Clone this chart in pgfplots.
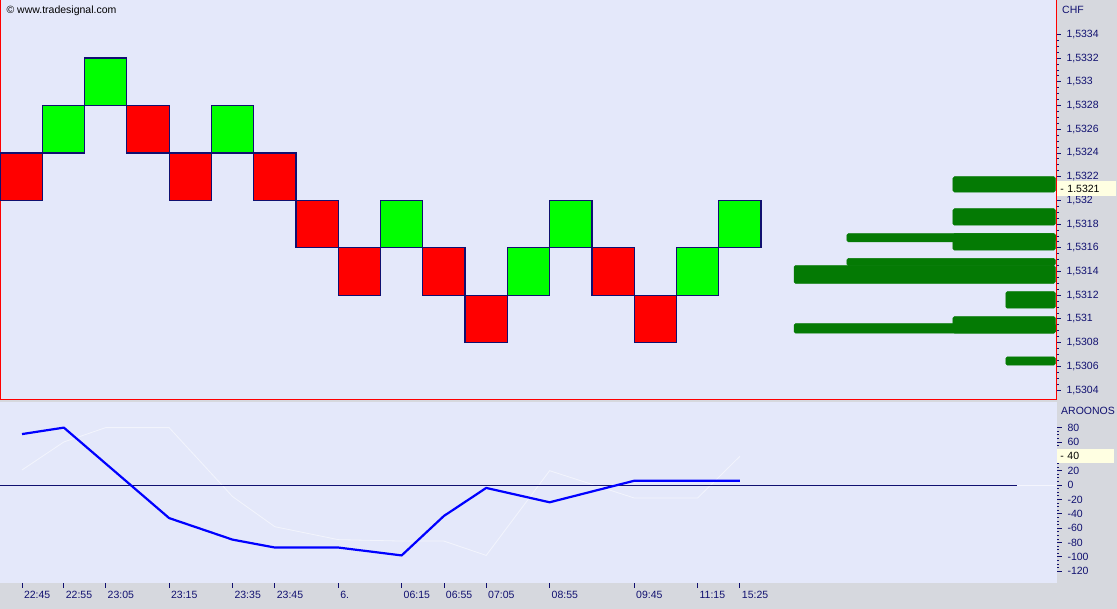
\documentclass[border=0pt]{standalone}
\usepackage{pgfplots}
\pgfplotsset{compat=1.18}
\usepackage{fontspec}
\setmainfont{Liberation Sans}

\definecolor{plotbg}{RGB}{228,232,250}
\definecolor{panelgray}{RGB}{214,216,222}
\definecolor{navy}{RGB}{16,16,112}
\definecolor{brickred}{RGB}{255,0,0}
\definecolor{brickgreen}{RGB}{0,255,0}
\definecolor{volgreen}{RGB}{4,122,4}
\definecolor{hilite}{RGB}{255,255,226}

% renko brick: colour, x0, x1, low, high
\newcommand\brick[5]{\addplot[fill=#1, draw=navy, line width=1.2pt] coordinates {(#2,#4) (#3,#4) (#3,#5) (#2,#5)} --cycle;}
% volume-at-price bar: left edge, low, high
\newcommand\vol[3]{\addplot[fill=volgreen, draw=volgreen, line width=0.5pt, rounded corners=1.5pt] coordinates {(#1,#2) (24.96,#2) (24.96,#3) (#1,#3)} --cycle;}

\begin{document}
\begin{tikzpicture}[x=1pt,y=1pt]
\fill[panelgray] (0,0) rectangle (1117,609);
\path[use as bounding box] (0,0) rectangle (1117,609);

\pgfplotsset{
    common/.style={
        scale only axis,
        width=1057pt,
        xmin=0, xmax=25,
        axis background/.style={fill=plotbg},
        tick align=outside,
        ytick pos=right,
        yticklabel pos=right,
        tick style={navy, line width=0.8pt},
        major tick length=4pt,
        minor tick length=2pt,
        ticklabel style={font=\fontsize{10.5}{12}\selectfont, text=navy},
        yticklabel style={xshift=2pt},
        /pgf/number format/assume math mode=true,
        clip mode=individual,
    },
}

% price panel
\begin{axis}[common,
    at={(0pt,209pt)}, anchor=south west,
    height=400pt,
    ymin=1.530316, ymax=1.53369,
    xtick=\empty,
    ytick={1.5304,1.5306,1.5308,1.531,1.5312,1.5314,1.5316,1.5318,1.532,1.5322,1.5324,1.5326,1.5328,1.533,1.5332,1.5334},
    minor y tick num=3,
    axis line style={red, line width=1pt},
    yticklabel style={/pgf/number format/.cd, fixed, precision=4, use comma},
    ]
    \brick{brickred}{0}{1}{1.5320}{1.5324}
    \brick{brickgreen}{1}{2}{1.5324}{1.5328}
    \brick{brickgreen}{2}{3}{1.5328}{1.5332}
    \brick{brickred}{3}{4}{1.5324}{1.5328}
    \brick{brickred}{4}{5}{1.5320}{1.5324}
    \brick{brickgreen}{5}{6}{1.5324}{1.5328}
    \brick{brickred}{6}{7}{1.5320}{1.5324}
    \brick{brickred}{7}{8}{1.5316}{1.5320}
    \brick{brickred}{8}{9}{1.5312}{1.5316}
    \brick{brickgreen}{9}{10}{1.5316}{1.5320}
    \brick{brickred}{10}{11}{1.5312}{1.5316}
    \brick{brickred}{11}{12}{1.5308}{1.5312}
    \brick{brickgreen}{12}{13}{1.5312}{1.5316}
    \brick{brickgreen}{13}{14}{1.5316}{1.5320}
    \brick{brickred}{14}{15}{1.5312}{1.5316}
    \brick{brickred}{15}{16}{1.5308}{1.5312}
    \brick{brickgreen}{16}{17}{1.5312}{1.5316}
    \brick{brickgreen}{17}{18}{1.5316}{1.5320}

    \vol{22.54}{1.53207}{1.53220}
    \vol{22.54}{1.53179}{1.53193}
    \vol{20.03}{1.53165}{1.53172}
    \vol{22.54}{1.53158}{1.53172}
    \vol{20.03}{1.53145}{1.53151}
    \vol{18.78}{1.53130}{1.53145}
    \vol{23.79}{1.53109}{1.53123}
    \vol{22.54}{1.53088}{1.53102}
    \vol{18.78}{1.53088}{1.53096}
    \vol{23.79}{1.53061}{1.53068}

    \node[anchor=west, fill=hilite, minimum width=59pt, minimum height=15pt,
          inner sep=1pt, font=\fontsize{10.5}{12}\selectfont, text=black,
          align=left, text width=56pt] at (axis cs:25,1.5321) {\,- 1.5321};
\end{axis}

% AROONOS panel
\begin{axis}[common,
    at={(0pt,26pt)}, anchor=south west,
    height=181pt,
    ymin=-136.4, ymax=115.7,
    ytick={-120,-100,-80,-60,-40,-20,0,20,40,60,80},
    yticklabels={-120,-100,-80,-60,-40,-20,0,20,{},60,80},
    minor y tick num=3,
    axis line style={draw=none},
    xtick pos=bottom,
    xtick={0.52,1.51,2.5,4.0,5.5,6.5,8.0,9.5,10.5,11.5,13.0,15.0,16.5,17.5},
    xticklabels={22:45,22:55,23:05,23:15,23:35,23:45,6.,06:15,06:55,07:05,08:55,09:45,11:15,15:25},
    xticklabel style={anchor=north west, xshift=-1.5pt},
    major tick length=5pt,
    ]
    \addplot[white, opacity=0.55, line width=0.8pt] coordinates {
        (0.52,21) (1.51,60) (2.5,80) (4.0,80) (5.5,-16) (6.5,-58)
        (8.0,-76) (9.5,-78) (10.5,-78) (11.5,-98) (13.0,20)
        (15.0,-18) (16.5,-18) (17.5,40)
    };
    \addplot[navy, line width=1pt] coordinates {(0,0) (24.05,0)};
    \addplot[white, opacity=0.6, line width=0.8pt] coordinates {(24.05,0) (25,0)};
    \addplot[blue, line width=2.2pt, line join=round] coordinates {
        (0.52,71) (1.51,80) (4.0,-46) (5.5,-76) (6.5,-87) (8.0,-87)
        (9.5,-98) (10.5,-43) (11.5,-4) (13.0,-24) (15.0,6) (17.5,6)
    };

    \node[anchor=west, fill=hilite, minimum width=57pt, minimum height=14pt,
          inner sep=1pt, font=\fontsize{10.5}{12}\selectfont, text=black,
          align=left, text width=54pt] at (axis cs:25,40) {\,- 40};
\end{axis}

\node[anchor=west, font=\fontsize{10.5}{12}\selectfont, text=black] at (3,598) {\textcopyright\ www.tradesignal.com};
\node[anchor=west, font=\fontsize{10.5}{12}\selectfont, text=navy, inner sep=0pt] at (1062,599) {CHF};
\node[anchor=west, font=\fontsize{10.5}{12}\selectfont, text=navy, inner sep=0pt] at (1061,198) {AROONOS};
\end{tikzpicture}
\end{document}
